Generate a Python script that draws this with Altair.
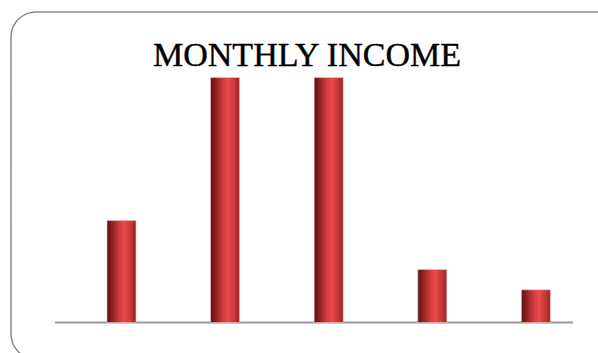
import altair as alt
import pandas as pd

categories = ["A", "B", "C", "D", "E"]
values = [25, 60, 60, 13, 8]
title_text = "MONTHLY INCOME"

df = pd.DataFrame({"cat": categories, "val": values})

grad = alt.LinearGradient(
    gradient="linear",
    x1=0, x2=1, y1=0, y2=0,
    stops=[
        alt.GradientStop(color="#5a1212", offset=0),
        alt.GradientStop(color="#8e2222", offset=0.18),
        alt.GradientStop(color="#d63d3d", offset=0.45),
        alt.GradientStop(color="#e84b4b", offset=0.6),
        alt.GradientStop(color="#c93838", offset=0.82),
        alt.GradientStop(color="#962626", offset=1),
    ],
)

xscale = alt.Scale(domain=categories, range=[58.7, 576.7], paddingInner=0.72, paddingOuter=0.36)
yscale = alt.Scale(domain=[0, 60], range=[310.5, 65.5], nice=False, zero=True)

frame = alt.Chart(pd.DataFrame({"k": [1]})).mark_rect(
    fill="white", stroke="#8a8a8a", strokeWidth=1.5, cornerRadius=25
).encode(
    x=alt.value(0), x2=alt.value(618), y=alt.value(0), y2=alt.value(347)
)

bars = alt.Chart(df).mark_bar(color=grad, stroke="#f0c4c4", strokeWidth=0.6).encode(
    x=alt.X("cat:N", scale=xscale, axis=None, sort=categories),
    y=alt.Y("val:Q", scale=yscale, axis=None),
)

baseline = alt.Chart(pd.DataFrame({"z": [0]})).mark_rule(
    color="#9c9c9c", strokeWidth=2
).encode(
    y=alt.Y("z:Q", scale=yscale, axis=None),
    x=alt.value(44), x2=alt.value(562),
)

title = alt.Chart(pd.DataFrame({"t": [title_text]})).mark_text(
    font="Liberation Serif", fontSize=34, color="black",
    stroke="black", strokeWidth=0.4,
    align="center", baseline="alphabetic"
).encode(
    text="t:N", x=alt.value(296), y=alt.value(54)
)

chart = alt.layer(frame, baseline, bars, title).properties(
    width=587, height=341,
    autosize=alt.AutoSizeParams(type="none"),
    padding={"left": 11, "top": 12, "right": 0, "bottom": 0},
    background="white",
).configure_view(stroke="transparent")

chart.save("out.html", embed_options={"renderer": "svg", "actions": False})
